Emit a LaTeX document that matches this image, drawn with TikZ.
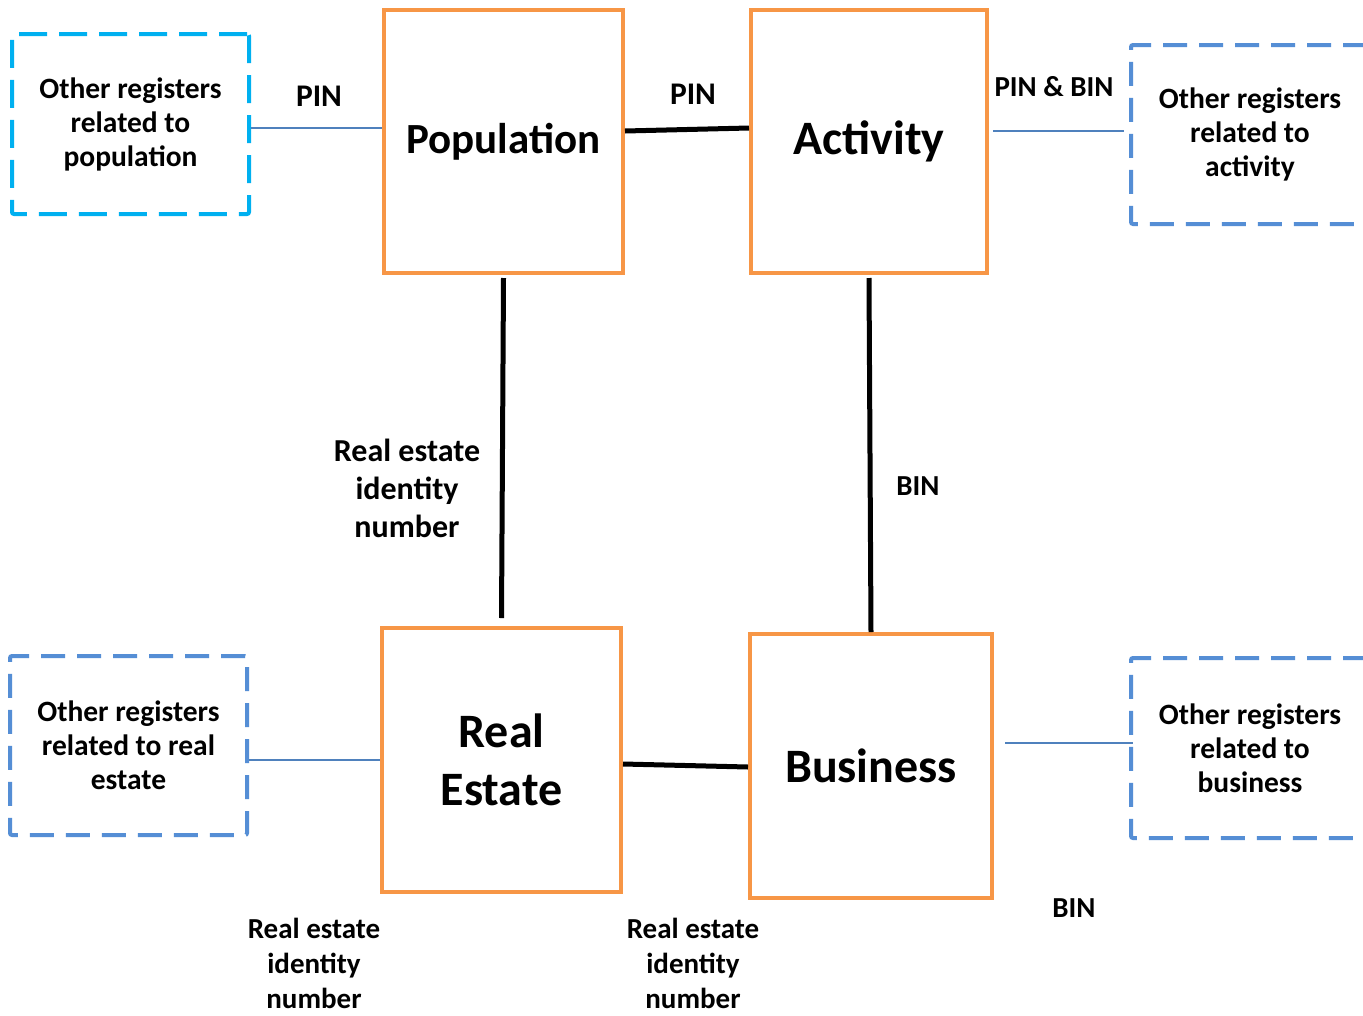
\documentclass[tikz,border=0pt]{standalone}
\usepackage{fontspec}
\setmainfont{Carlito}
\usetikzlibrary{calc}
\definecolor{boxorange}{HTML}{F79646}
\definecolor{regcyan}{HTML}{00B0F0}
\definecolor{regblue}{HTML}{558ED5}
\definecolor{thinblue}{HTML}{4F81BD}
\tikzset{
  mainbox/.style={draw=boxorange, line width=4pt, fill=white, inner sep=0pt, align=center,
    font=\fontsize{48}{58}\selectfont\bfseries},
  regbox/.style={draw=regblue, line width=4pt, dash pattern=on 24pt off 12pt, rounded corners=2pt,
    fill=white, inner sep=0pt, align=center, font=\fontsize{29.5}{34}\selectfont\bfseries},
  thick link/.style={line width=5pt, black},
  thin link/.style={line width=1.6pt, thinblue},
  lbl/.style={align=center, inner sep=0pt, font=\fontsize{29}{35}\selectfont\bfseries},
}
\begin{document}
\begin{tikzpicture}[x=1pt, y=-1pt]
\useasboundingbox (0,0) rectangle (1363,1015);
\clip (0,0) rectangle (1363,1015);
\fill[white] (0,0) rectangle (1363,1015);
% main boxes
\node[mainbox, font=\fontsize{43}{52}\selectfont\bfseries, minimum width=239pt, minimum height=263pt] (pop) at (503.5,141.5) {Population};
\node[mainbox, minimum width=236pt, minimum height=263pt] (act) at (869,141.5) {Activity};
\node[mainbox, minimum width=239pt, minimum height=264pt] (re) at (501.5,760) {Real\\Estate};
\node[mainbox, minimum width=242pt, minimum height=264pt] (biz) at (871,766) {Business};
% register boxes
\node[regbox, draw=regcyan, dash pattern=on 28pt off 12pt, minimum width=237pt, minimum height=180pt] (opop) at (130.5,124) {Other registers\\related to\\population};
\node[regbox, minimum width=238pt, minimum height=179pt] (oact) at (1250,134.5) {Other registers\\related to\\activity};
\node[regbox, minimum width=237pt, minimum height=179pt] (ore) at (128.5,745.5) {Other registers\\related to real\\estate};
\node[regbox, minimum width=238pt, minimum height=180pt] (obiz) at (1250,748) {Other registers\\related to\\business};
% thick links
\draw[thick link] ([yshift=10.5pt]pop.east) -- ([yshift=13.5pt]act.west);
\draw[thick link] ([yshift=-3pt]pop.south) -- ([yshift=8pt]re.north);
\draw[thick link] ([yshift=-3pt]act.south) -- (biz.north);
\draw[thick link] ([yshift=-4pt]re.east) -- ([yshift=-1pt]biz.west);
% thin links
\draw[thin link] ([yshift=-4pt]opop.east) -- ([yshift=-4pt]opop.east -| pop.west);
\draw[thin link] ([xshift=4pt,yshift=10.5pt]act.east) -- ([xshift=-5pt,yshift=10.5pt]act.east -| oact.west);
\draw[thin link] ([yshift=-14.5pt]ore.east) -- ([yshift=-14.5pt]ore.east -| re.west);
\draw[thin link] ([xshift=11pt,yshift=23pt]biz.east) -- ([xshift=4pt,yshift=23pt]biz.east -| obiz.west);
% labels
\node[lbl, font=\fontsize{31.5}{38}\selectfont\bfseries] (l1) at (319,96) {PIN};
\node[lbl, font=\fontsize{31.5}{38}\selectfont\bfseries] (l2) at (693,94) {PIN};
\node[lbl] (l3) at (1054,87) {PIN \& BIN};
\node[lbl, font=\fontsize{32}{38}\selectfont\bfseries] (l4) at (407,488) {Real estate\\identity\\number};
\node[lbl] (l5) at (918,486) {BIN};
\node[lbl] (l6) at (314,963) {Real estate\\identity\\number};
\node[lbl] (l7) at (693,963) {Real estate\\identity\\number};
\node[lbl] (l8) at (1074,908) {BIN};
\end{tikzpicture}
\end{document}
